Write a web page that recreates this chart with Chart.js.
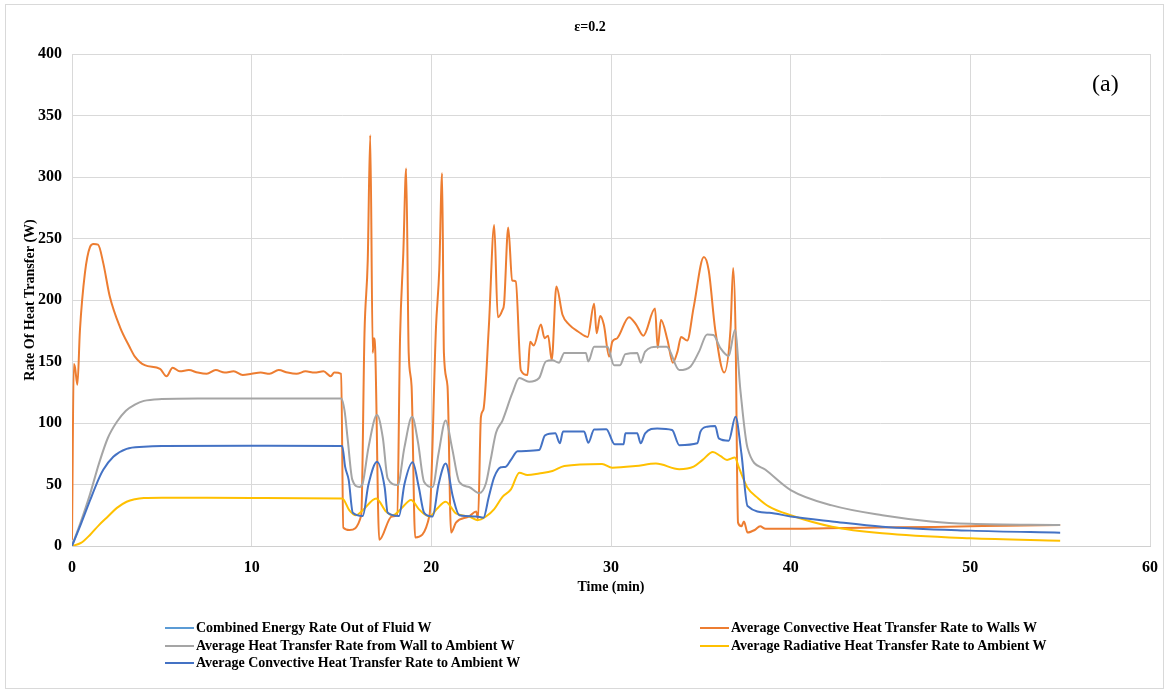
<!DOCTYPE html>
<html>
<head>
<meta charset="utf-8">
<script src="https://cdn.jsdelivr.net/npm/chart.js@4.4.1/dist/chart.umd.min.js"></script>
<style>
body { margin: 0; background: #fff; }
#wrap { position: relative; width: 1170px; height: 694px; }
#frame { position: absolute; left: 5px; top: 4px; width: 1159px; height: 685px; border: 1px solid #d9d9d9; box-sizing: border-box; }
#myChart { position: absolute; left: 0; top: 0; }
#title { position: absolute; left: 0; width: 1180px; top: 19px; text-align: center; font: bold 14px "Liberation Serif", serif; }
#tag { position: absolute; left: 1092px; top: 70px; font: 24px "Liberation Serif", serif; }
.item { position: absolute; height: 16px; font: bold 14px "Liberation Serif", serif; white-space: nowrap; line-height: 16px; }
.item span.mark { display: inline-block; width: 29px; height: 2px; vertical-align: middle; margin-right: 2px; margin-top: -2px; }
</style>
</head>
<body>
<div id="wrap">
<div id="frame"></div>
<canvas id="myChart" width="1170" height="694"></canvas>
<div id="title">ε=0.2</div>
<div id="tag">(a)</div>
<div id="legend"></div>
</div>
<script>
// axis ticks
const xTicks = [0, 10, 20, 30, 40, 50, 60];
const yTicks = [0, 50, 100, 150, 200, 250, 300, 350, 400];

// Combined Energy Rate Out of Fluid W (no visible trace)
const combinedT = [];
const combinedW = [];

// Average Convective Heat Transfer Rate to Walls W
const wallsT = [0, 0.1, 0.17, 0.3, 0.44, 0.72, 1.0, 1.2, 1.45, 1.74, 2.1, 2.67, 3.2, 3.5, 4.05, 4.9, 5.26, 5.6, 6.0, 6.5, 7.0, 7.5, 8.0, 8.5, 9.0, 9.5, 10.0, 10.5, 11.0, 11.5, 12.0, 12.5, 13.0, 13.5, 14.0, 14.4, 14.6, 14.98,
  15.1, 15.44, 16.1, 16.28, 16.46, 16.6, 16.74, 16.8, 16.87, 17.1, 17.8, 18.1, 18.26, 18.44, 18.6, 18.74, 18.9, 19.1, 19.9, 20.26, 20.44, 20.6, 20.7, 20.9, 21.1, 21.37, 22.1, 22.5, 22.6,
  22.76, 22.9, 23.2, 23.5, 23.7, 23.96, 24.05, 24.28, 24.5, 24.7, 24.98, 25.35, 25.5, 25.7, 26.1, 26.3, 26.5, 26.7, 26.96, 27.3, 27.67, 28.2, 28.7, 29.06, 29.2, 29.4, 29.6, 29.9, 30.07, 30.35,
  31.0, 31.4, 31.8, 32.45, 32.6, 32.78, 33.15, 33.44, 33.7, 33.9, 34.24, 34.6, 35.17, 35.44, 35.8, 36.3, 36.65, 36.8, 36.93, 37.07, 37.26, 37.4, 37.6, 38.0, 38.3, 38.6, 40, 42, 45, 48, 50, 52, 55];
const wallsW = [5, 148, 145, 131, 175, 222, 243, 245.5, 245, 230, 203, 178, 162, 154, 147, 144, 138, 145, 142, 143, 141, 140, 143, 141, 142, 139, 140, 141, 140, 143, 141, 140, 142, 141, 142, 138, 141, 140,
  15, 13, 25, 173, 232, 334, 157, 169, 162, 5, 24, 25, 170, 238, 307, 157, 130, 7, 25, 178, 224, 303, 157, 130, 11, 19, 24, 28, 22,
  105, 111, 178, 261, 186, 192, 197, 259, 216, 215, 143, 139, 166, 163, 180, 169, 171, 151, 211, 188, 180, 174, 170, 197, 173, 187, 180, 154, 166, 169,
  186, 180, 171, 193, 161, 184, 167, 149, 158, 170, 167, 194, 235, 224, 176, 141, 176, 226, 176, 19, 16, 20, 11, 13, 16, 14, 14, 14.5, 15, 15.5, 16, 16.5, 17];

// Average Heat Transfer Rate from Wall to Ambient W
const wallAmbT = [0, 0.5, 1.0, 1.5, 2.0, 2.5, 3.0, 3.5, 4.0, 5.0, 7, 10, 14.98, 15.17, 15.35, 15.6, 16.0, 16.18, 16.5, 16.98, 17.3, 17.57, 18.13, 18.5, 18.93, 19.25, 19.6, 20.07, 20.4, 20.8, 21.15, 21.56,
  22.1, 22.67, 23.04, 23.3, 23.6, 23.96, 24.5, 24.9, 25.44, 26.0, 26.37, 26.74, 27.1, 27.4, 28.6, 28.74, 29.06, 29.8, 30.17, 30.5, 30.8, 31.46, 31.65, 31.9, 32.57, 33.1, 33.8, 34.43,
  34.9, 35.35, 35.7, 36.1, 36.55, 36.9, 37.2, 37.6, 38.6, 40, 42.3, 45.1, 47.8, 50, 55];
const wallAmbW = [0, 20, 42, 67, 88, 101, 110, 115, 118, 119.5, 120, 120, 120, 110, 86, 54, 48, 51, 80, 106.5, 88, 55, 49.6, 80, 105, 85, 52, 48, 75, 102, 80, 52,
  48, 43, 51, 70, 92, 102, 124, 136.5, 133.6, 136.6, 150, 151, 149, 157, 157, 150, 162, 162, 147, 147, 156, 157, 149, 158, 162, 162, 143, 146,
  158, 172, 171.5, 160.7, 154.5, 175.6, 127, 79.6, 62, 45.5, 33, 25, 20, 18, 17];

// Average Radiative Heat Transfer Rate to Ambient W
const radT = [0, 0.5, 1.0, 1.5, 2.0, 2.5, 3.04, 3.5, 4.0, 5, 10, 15.04, 15.44, 15.8, 16.18, 16.93, 17.48, 17.85, 18.3, 18.87, 19.3, 19.7, 19.9, 20.3, 20.8, 21.37, 22.1, 22.57, 23.04, 23.5, 23.96,
  24.43, 24.9, 25.35, 26.0, 26.74, 27.4, 29.5, 30.07, 31.37, 32.5, 33.8, 34.6, 35.1, 35.67, 36.1, 36.46, 36.9, 37.1, 37.57, 38.2, 38.8, 40, 42.3, 45.1, 50, 55];
const radW = [0, 2.5, 9, 17, 24, 31, 36, 38, 39, 39.3, 39, 38.7, 29, 25, 29, 38.7, 28, 25, 30, 37.4, 30, 25, 24, 30, 36, 26.5, 24, 21, 24, 30, 40,
  46, 59.6, 57.7, 59, 61, 65, 66.7, 63.7, 65, 67, 62.4, 64.5, 70, 76.4, 73, 70, 72, 64.5, 48, 38.7, 32, 25, 15.7, 10.3, 6.2, 4.3];

// Average Convective Heat Transfer Rate to Ambient W
const ambT = [0, 0.5, 1.0, 1.5, 1.74, 2.3, 3.04, 4.0, 5.0, 10, 15.04, 15.2, 15.4, 15.63, 16.18, 16.5, 16.98, 17.4, 17.57, 18.2, 18.5, 18.96, 19.3, 19.6, 20.07, 20.4, 20.8, 21.2, 21.56, 22.5, 22.9,
  23.2, 23.5, 23.87, 24.15, 24.43, 24.8, 26.0, 26.33, 26.9, 27.15, 27.33, 28.5, 28.74, 29.06, 29.74, 30.2, 30.7, 30.8, 31.46, 31.65, 31.9, 32.57, 33.4, 33.8, 34.8, 34.98, 35.35, 35.8, 36.0,
  36.55, 36.93, 37.26, 37.6, 38.8, 40, 42.3, 45.1, 50, 55];
const ambW = [0, 18, 37, 55, 62, 72.6, 79, 80.7, 81.3, 81.5, 81.3, 64.5, 53.7, 27, 24.4, 50, 68.5, 48, 27, 24.4, 50, 68, 48, 27, 24, 50, 67, 40, 25, 24, 23,
  40, 56, 64, 64.5, 70, 77, 78, 90, 91.6, 83.5, 93, 93, 84, 94.8, 95, 82.7, 82.7, 91.6, 91.6, 83.5, 91.6, 95.6, 94.3, 82, 83.5, 93, 97, 97.5, 87.5,
  85.6, 105, 75, 32.5, 27, 24, 20, 15.7, 12.5, 10.8];

const labels = [
  "Combined Energy Rate Out of Fluid W",
  "Average Convective Heat Transfer Rate to Walls W",
  "Average Heat Transfer Rate from Wall to Ambient W",
  "Average Radiative Heat Transfer Rate to Ambient W",
  "Average Convective Heat Transfer Rate to Ambient W"
];
const colors = ["#5B9BD5", "#ED7D31", "#A5A5A5", "#FFC000", "#4472C4"];
const series = [[combinedT, combinedW], [wallsT, wallsW], [wallAmbT, wallAmbW], [radT, radW], [ambT, ambW]];

function pts(t, w) {
  return t.map(function (x, i) { return { x: x, y: w[i] }; });
}

var datasets = [];
for (let i = 0; i < series.length; i++) {
  datasets.push({
    label: labels[i],
    data: pts(series[i][0], series[i][1]),
    borderColor: colors[i],
    backgroundColor: colors[i],
    borderWidth: 2,
    pointRadius: 0,
    fill: false,
    cubicInterpolationMode: "monotone",
    order: series.length - i
  });
}

const serif = "'Liberation Serif', 'Times New Roman', serif";
var ctx = document.getElementById("myChart");
var myChart = new Chart(ctx, {
  type: "line",
  data: { datasets: datasets },
  options: {
    responsive: false,
    animation: false,
    layout: { padding: { left: 0, top: 54, right: 18, bottom: 88 } },
    plugins: { legend: { display: false }, title: { display: false }, tooltip: { enabled: false } },
    scales: {
      x: {
        type: "linear", min: 0, max: 60,
        afterBuildTicks: function (s) { s.ticks = xTicks.map(function (v) { return { value: v }; }); },
        afterFit: function (s) { s.height = 60; },
        ticks: { padding: 12, color: "#000", font: { family: serif, size: 16, weight: "bold" } },
        grid: { color: "#d9d9d9", drawTicks: false },
        border: { color: "#d0d0d0" },
        title: { display: true, text: "Time (min)", color: "#000", padding: { top: 0, bottom: 10 }, font: { family: serif, size: 14, weight: "bold" } }
      },
      y: {
        min: 0, max: 400,
        afterBuildTicks: function (s) { s.ticks = yTicks.map(function (v) { return { value: v }; }); },
        afterFit: function (s) { s.width = 72; },
        ticks: { padding: 10, color: "#000", font: { family: serif, size: 16, weight: "bold" } },
        grid: { color: "#d9d9d9", drawTicks: false },
        border: { color: "#d9d9d9" },
        title: { display: true, text: "Rate Of Heat Transfer (W)", color: "#000", padding: { top: 22, bottom: 0 }, font: { family: serif, size: 14, weight: "bold" } }
      }
    }
  }
});

// legend in two columns, filled row by row
var legendX = [165, 700];
var legendY = [620, 638, 655];
var legend = document.getElementById("legend");
for (let i = 0; i < labels.length; i++) {
  var item = document.createElement("div");
  item.className = "item";
  item.style.left = legendX[i % 2] + "px";
  item.style.top = legendY[Math.floor(i / 2)] + "px";
  item.innerHTML = '<span class="mark" style="background:' + colors[i] + '"></span>' + labels[i];
  legend.appendChild(item);
}
</script>
</body>
</html>
